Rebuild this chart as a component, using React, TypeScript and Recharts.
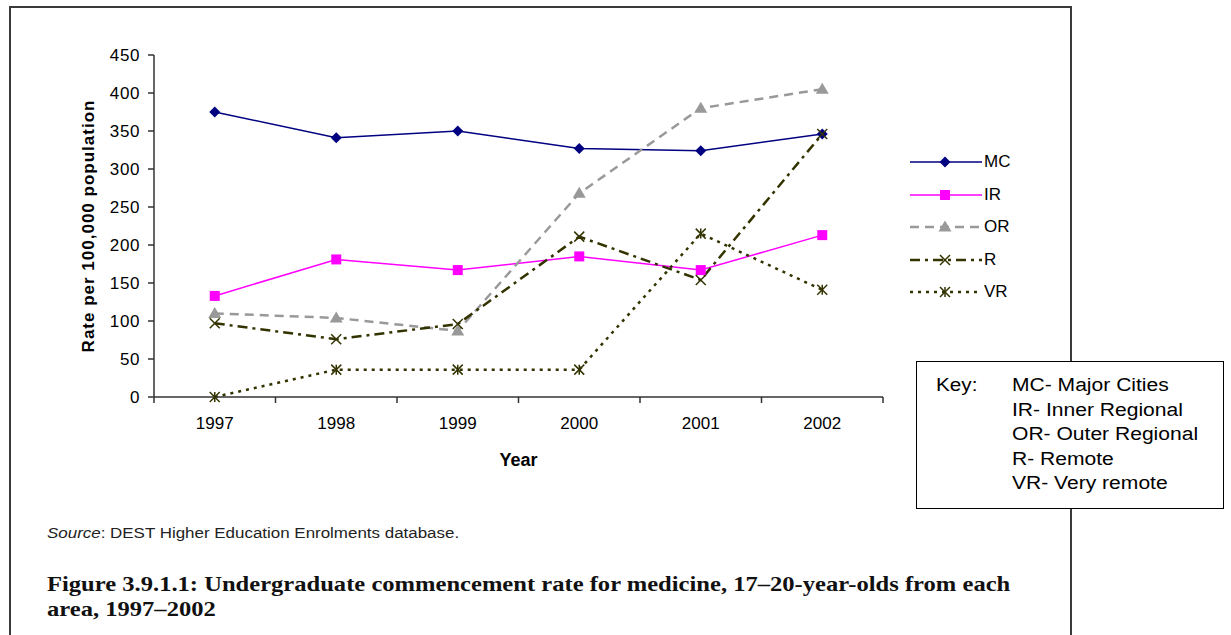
import { LineChart, Line, XAxis, YAxis, Legend, Label } from 'recharts';

const years = [1997, 1998, 1999, 2000, 2001, 2002];
const mcRates = [375, 341, 350, 327, 324, 346];
const irRates = [133, 181, 167, 185, 167, 213];
const orRates = [110, 104, 87, 268, 380, 405];
const rRates = [97, 76, 96, 211, 154, 346];
const vrRates = [0, 36, 36, 36, 215, 141];

const yTicks = [0, 50, 100, 150, 200, 250, 300, 350, 400, 450];
// category boundaries (Excel style tick marks) plus the year centres for labels
const xTicks = years
  .flatMap((y) => [y - 0.5, y])
  .concat(years[years.length - 1] + 0.5);

const keyLines = [
  'MC- Major Cities',
  'IR- Inner Regional',
  'OR- Outer Regional',
  'R- Remote',
  'VR- Very remote',
];

const series = [
  { key: 'MC', color: '#000080', width: 1.5, dash: undefined, marker: 'diamond' },
  { key: 'IR', color: '#ff00ff', width: 1.5, dash: undefined, marker: 'square' },
  { key: 'OR', color: '#999999', width: 2.5, dash: '9 6', marker: 'triangle' },
  { key: 'R', color: '#333300', width: 2.5, dash: '10 5 3 5', marker: 'x' },
  { key: 'VR', color: '#333300', width: 2.5, dash: '3 5', marker: 'star' },
];

const data = years.map((year, i) => ({
  year,
  MC: mcRates[i],
  IR: irRates[i],
  OR: orRates[i],
  R: rRates[i],
  VR: vrRates[i],
}));

const FONT = '"Liberation Sans", Arial, sans-serif';
const AXIS = '#333333';

function marker(kind: string, cx: number, cy: number, color: string, key?: any) {
  if (cx == null || cy == null) return <g key={key} />;
  if (kind === 'diamond')
    return (
      <polygon
        key={key}
        points={`${cx},${cy - 5.5} ${cx + 5.5},${cy} ${cx},${cy + 5.5} ${cx - 5.5},${cy}`}
        fill={color}
      />
    );
  if (kind === 'square')
    return <rect key={key} x={cx - 5} y={cy - 5} width={10} height={10} fill={color} />;
  if (kind === 'triangle')
    return (
      <polygon
        key={key}
        points={`${cx},${cy - 6.5} ${cx + 6.5},${cy + 4.5} ${cx - 6.5},${cy + 4.5}`}
        fill={color}
      />
    );
  const s = 5;
  return (
    <g key={key} stroke={color} strokeWidth={1.5}>
      <line x1={cx - s} y1={cy - s} x2={cx + s} y2={cy + s} />
      <line x1={cx - s} y1={cy + s} x2={cx + s} y2={cy - s} />
      {kind === 'star' && <line x1={cx} y1={cy - s} x2={cx} y2={cy + s} />}
    </g>
  );
}

const TICK_SIZE = 6;
const TICK_MARGIN = 14;

function XTick(props: any) {
  const { x, y, payload } = props;
  const v = payload.value;
  if (Number.isInteger(v)) {
    return (
      <text x={x} y={y} dy="0.71em" textAnchor="middle" fill="#000" fontSize={17} fontFamily={FONT}>
        {v}
      </text>
    );
  }
  const axisY = y - TICK_SIZE - TICK_MARGIN;
  return <line x1={x} y1={axisY} x2={x} y2={axisY + TICK_SIZE} stroke={AXIS} strokeWidth={1.5} />;
}

function KeyLegend() {
  return (
    <div style={{ fontFamily: FONT, fontSize: 17, color: '#000' }}>
      {series.map((s) => (
        <div key={s.key} style={{ height: 32.5, display: 'flex', alignItems: 'center' }}>
          <svg width={72} height={16} style={{ display: 'block' }}>
            <line
              x1={0}
              y1={8}
              x2={72}
              y2={8}
              stroke={s.color}
              strokeWidth={s.width}
              strokeDasharray={s.dash}
            />
            {marker(s.marker, 35, 8, s.color)}
          </svg>
          <span style={{ marginLeft: 2 }}>{s.key}</span>
        </div>
      ))}
    </div>
  );
}

const stretch = (k: number) => ({ transform: `scaleX(${k})`, transformOrigin: 'left top' });

export default function App() {
  return (
    <div
      style={{
        position: 'absolute',
        left: 0,
        top: 0,
        width: 1231,
        height: 635,
        overflow: 'hidden',
        background: '#fff',
      }}
    >
      <div
        style={{
          position: 'absolute',
          left: 9,
          top: 6,
          width: 1063,
          height: 700,
          boxSizing: 'border-box',
          borderTop: '2px solid #3a3a3a',
          borderLeft: '2px solid #3a3a3a',
          borderRight: '2px solid #3a3a3a',
        }}
      />
      <div style={{ position: 'absolute', left: 0, top: 0 }}>
        <LineChart
          width={1231}
          height={635}
          data={data}
          margin={{ top: 55, right: 348, bottom: 168, left: 74 }}
        >
          <XAxis
            dataKey="year"
            type="number"
            domain={[1996.5, 2002.5]}
            ticks={xTicks}
            interval={0}
            height={70}
            tickLine={false}
            tickSize={TICK_SIZE}
            tickMargin={TICK_MARGIN}
            tick={<XTick />}
            stroke={AXIS}
            strokeWidth={1.5}
          >
            <Label
              value="Year"
              position="insideBottom"
              offset={1}
              style={{ fontFamily: FONT, fontSize: 18, fontWeight: 'bold', fill: '#000' }}
            />
          </XAxis>
          <YAxis
            domain={[0, 450]}
            ticks={yTicks}
            interval={0}
            width={80}
            tickSize={TICK_SIZE}
            tickMargin={8}
            stroke={AXIS}
            strokeWidth={1.5}
            tick={{ fill: '#000', fontSize: 17, fontFamily: FONT, letterSpacing: 0.6 }}
          >
            <Label
              value="Rate per 100,000 population"
              angle={-90}
              position="insideLeft"
              offset={14}
              style={{
                fontFamily: FONT,
                fontSize: 17,
                fontWeight: 'bold',
                fill: '#000',
                textAnchor: 'middle',
                letterSpacing: 1,
              }}
            />
          </YAxis>
          <Legend
            layout="vertical"
            align="center"
            verticalAlign="middle"
            content={<KeyLegend />}
            wrapperStyle={{ left: 910, top: 146, width: 130 }}
          />
          {series.map((s) => (
            <Line
              key={s.key}
              type="linear"
              dataKey={s.key}
              name={s.key}
              stroke={s.color}
              strokeWidth={s.width}
              strokeDasharray={s.dash}
              dot={(p: any) => marker(s.marker, p.cx, p.cy, s.color, `${s.key}-${p.index}`)}
              activeDot={false}
              isAnimationActive={false}
            />
          ))}
        </LineChart>
      </div>
      <div
        style={{
          position: 'absolute',
          left: 916,
          top: 361,
          width: 308,
          height: 148,
          boxSizing: 'border-box',
          border: '1.5px solid #000',
          background: '#fff',
          fontFamily: FONT,
          fontSize: 18,
          lineHeight: '24.5px',
          color: '#000',
        }}
      >
        <div style={{ position: 'absolute', left: 19, top: 11, ...stretch(1.15) }}>Key:</div>
        <div style={{ position: 'absolute', left: 95, top: 11, whiteSpace: 'nowrap', ...stretch(1.17) }}>
          {keyLines.map((t) => (
            <div key={t}>{t}</div>
          ))}
        </div>
      </div>
      <div
        style={{
          position: 'absolute',
          left: 47,
          top: 525,
          fontFamily: FONT,
          fontSize: 14,
          color: '#222',
          whiteSpace: 'nowrap',
          ...stretch(1.21),
        }}
      >
        <i>Source</i>: DEST Higher Education Enrolments database.
      </div>
      <div
        style={{
          position: 'absolute',
          left: 47,
          top: 572,
          fontFamily: '"Liberation Serif", "Times New Roman", serif',
          fontSize: 21,
          fontWeight: 'bold',
          lineHeight: '25px',
          color: '#111',
          whiteSpace: 'nowrap',
          ...stretch(1.17),
        }}
      >
        Figure 3.9.1.1: Undergraduate commencement rate for medicine, 17–20-year-olds from each
        <br />
        area, 1997–2002
      </div>
    </div>
  );
}
